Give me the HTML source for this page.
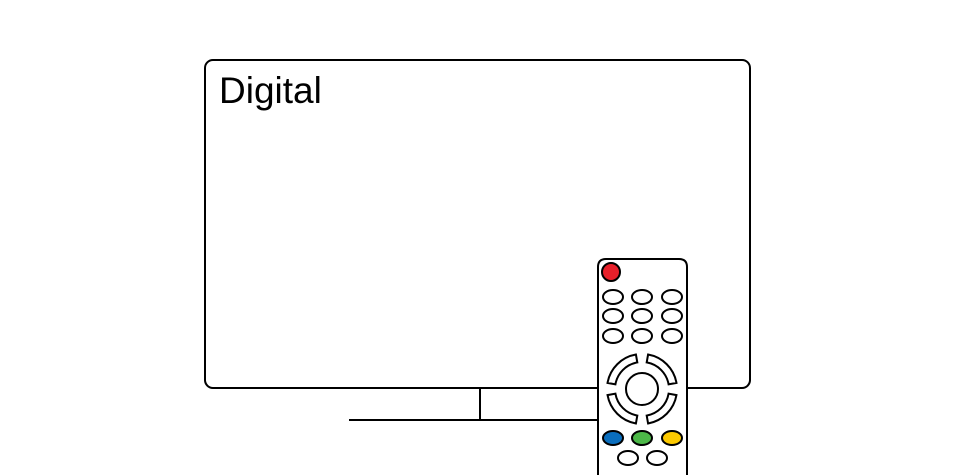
<!DOCTYPE html>
<html><head><style>
html,body{margin:0;padding:0;background:#fff;}
svg{display:block;}
</style></head><body>
<svg width="960" height="475" viewBox="0 0 960 475" xmlns="http://www.w3.org/2000/svg">
<g fill="none" stroke="#000" stroke-width="2">
<rect x="205" y="60" width="545" height="328" rx="8"/>
<line x1="480" y1="388" x2="480" y2="420"/>
<line x1="349" y1="420" x2="600" y2="420"/>
</g>
<text x="219" y="103" font-family="'Liberation Sans',sans-serif" font-size="37" fill="#000">Digital</text>
<g stroke="#000" stroke-width="2">
<path d="M598,485 L598,267 Q598,259 606,259 L679,259 Q687,259 687,267 L687,485 Z" fill="#fff"/>
<circle cx="611" cy="272" r="9" fill="#e8202a"/>
<g fill="#fff">
<ellipse cx="613" cy="297" rx="10" ry="7"/><ellipse cx="642" cy="297" rx="10" ry="7"/><ellipse cx="672" cy="297" rx="10" ry="7"/>
<ellipse cx="613" cy="316" rx="10" ry="7"/><ellipse cx="642" cy="316" rx="10" ry="7"/><ellipse cx="672" cy="316" rx="10" ry="7"/>
<ellipse cx="613" cy="336" rx="10" ry="7"/><ellipse cx="642" cy="336" rx="10" ry="7"/><ellipse cx="672" cy="336" rx="10" ry="7"/>
<circle cx="642" cy="389" r="16"/>
<path d="M648.08,354.53 A35,35 0 0 1 676.47,382.92 L668.59,384.31 A27,27 0 0 0 646.69,362.41 Z"/>
<path transform="rotate(90 642 389)" d="M648.08,354.53 A35,35 0 0 1 676.47,382.92 L668.59,384.31 A27,27 0 0 0 646.69,362.41 Z"/>
<path transform="rotate(180 642 389)" d="M648.08,354.53 A35,35 0 0 1 676.47,382.92 L668.59,384.31 A27,27 0 0 0 646.69,362.41 Z"/>
<path transform="rotate(270 642 389)" d="M648.08,354.53 A35,35 0 0 1 676.47,382.92 L668.59,384.31 A27,27 0 0 0 646.69,362.41 Z"/>
<ellipse cx="628" cy="458" rx="10" ry="7"/><ellipse cx="657" cy="458" rx="10" ry="7"/>
</g>
<ellipse cx="613" cy="438" rx="10" ry="7" fill="#0a6ebd"/>
<ellipse cx="642" cy="438" rx="10" ry="7" fill="#4cb848"/>
<ellipse cx="672" cy="438" rx="10" ry="7" fill="#fcc900"/>
</g>
</svg>
</body></html>
